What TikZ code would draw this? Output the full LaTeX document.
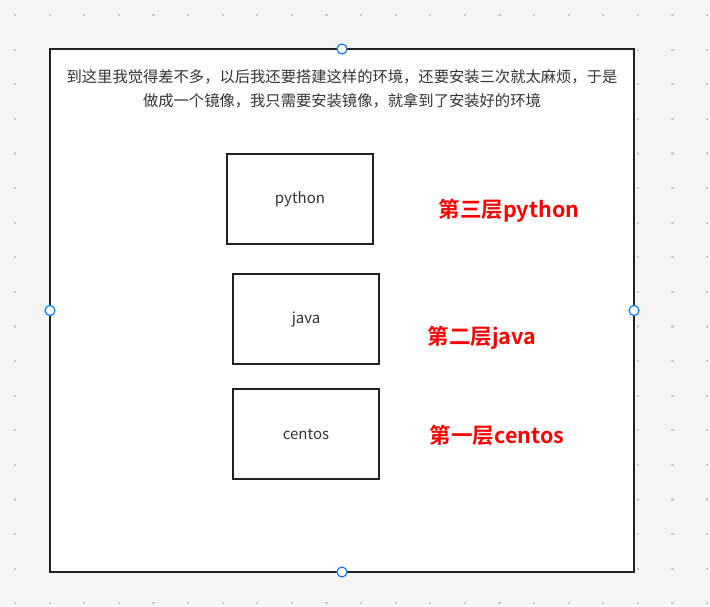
\documentclass[tikz,border=0pt]{standalone}
\usepackage{fontspec}
\setmainfont{Noto Sans CJK SC}
\newfontfamily\cjkbold{Noto Sans CJK SC Bold}
\begin{document}
\begin{tikzpicture}[x=1pt,y=-1pt,
  frame/.style={draw=black!87,line width=2.5pt,fill=white,outer sep=0pt},
  layerbox/.style={draw=black!87,line width=2.5pt,fill=white,minimum width=146pt,minimum height=90pt,inner sep=0pt,outer sep=0pt,text=black!80,font=\fontsize{15pt}{17pt}\selectfont},
  handle/.style={circle,draw=blue!55!cyan,fill=white,line width=1.1pt,minimum size=10pt,inner sep=0pt},
  redlabel/.style={text=red,font=\cjkbold\fontsize{21.5pt}{24pt}\selectfont,inner sep=0pt},
  toptext/.style={text=black!80,font=\fontsize{15.3pt}{24pt}\selectfont,align=center,inner sep=0pt}]
\fill[black!4] (0,0) rectangle (710,606);
\useasboundingbox (0,0) rectangle (710,606);
\foreach \i in {0,...,20}{
  \foreach \j in {0,...,17}{
    \fill[black!20] ({15+34.6*\i-1},{15+34.6*\j-1}) rectangle ++(2.2,2.2);
  }
}
\node[frame,minimum width=584pt,minimum height=523pt,inner sep=0pt] (frame) at (342,310.5) {};
\node[toptext] (desc) at (342,89) {到这里我觉得差不多，以后我还要搭建这样的环境，还要安装三次就太麻烦，于是\\做成一个镜像，我只需要安装镜像，就拿到了安装好的环境};
\node[layerbox] (python) at (300,199) {python};
\node[layerbox] (java) at (306,319) {java};
\node[layerbox] (centos) at (306,434) {centos};
\node[redlabel] (l3) at (509,211) {第三层python};
\node[redlabel] (l2) at (482,338) {第二层java};
\node[redlabel] (l1) at (497,435) {第一层centos};
\node[handle] (hn) at (frame.north) {};
\node[handle] (hs) at (frame.south) {};
\node[handle] (hw) at (frame.west) {};
\node[handle] (he) at (frame.east) {};
\end{tikzpicture}
\end{document}
